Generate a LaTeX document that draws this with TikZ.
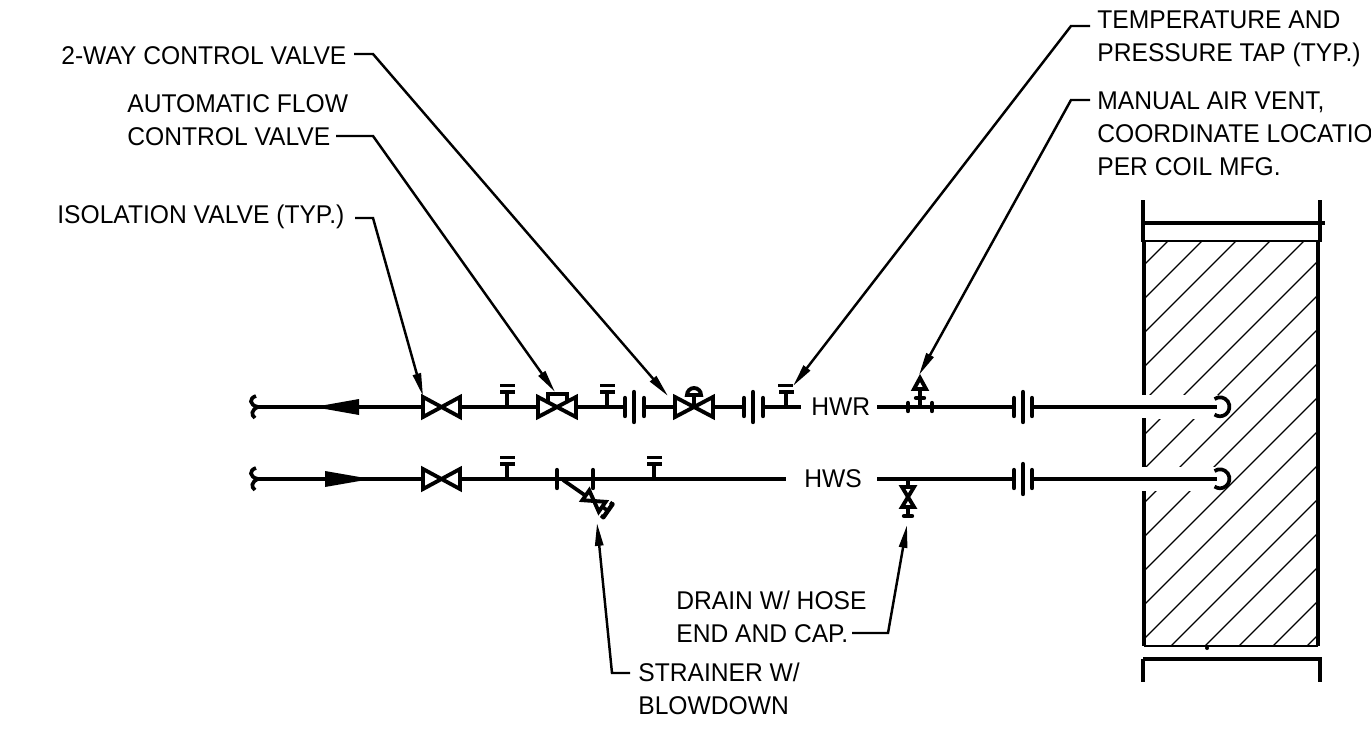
\documentclass[tikz,border=0pt]{standalone}
\usepackage{fontspec}
\setmainfont[FakeStretch=0.96]{Liberation Sans}
\usetikzlibrary{arrows.meta}
\tikzset{
  pipe/.style={black, line width=2.1pt},
  valve/.style={black, line width=2.2pt, line join=miter},
  tick/.style={black, line width=2.5pt, line cap=round},
  wall/.style={black, line width=2.8pt},
  rail/.style={black, line width=1.9pt},
  thinwall/.style={black, line width=1.6pt},
  hatch/.style={black, line width=0.7pt},
  leader/.style={black, line width=1.4pt, -{Triangle[length=13pt,width=4.6pt]}},
  label/.style={anchor=west, inner sep=0pt, align=left, font=\fontsize{14.6}{18.8}\selectfont},
}
\begin{document}
\begin{tikzpicture}[x=0.02cm,y=-0.02cm]
\useasboundingbox (0,0) rectangle (1371,740);

%% Coil hatching
\begin{scope}
\clip (1144,242) rectangle (1318,646);
\foreach \c in {1409,1443,...,1953}
  \draw[hatch] (1144,\c-1144) -- (1318,\c-1318);
\end{scope}
\fill[white] (1142,395) rectangle (1218,419);
\fill[white] (1142,467) rectangle (1218,491);

%% Coil casing
\draw[wall] (1144,242) -- (1144,395);
\draw[wall] (1144,418) -- (1144,467);
\draw[wall] (1144,491) -- (1144,646);
\draw[wall] (1318,242) -- (1318,646);
\draw[rail] (1143,200) -- (1143,242);
\draw[rail] (1320,200) -- (1320,242);
\draw[rail] (1143,659) -- (1143,682);
\draw[rail] (1320,659) -- (1320,682);
\draw[rail] (1143,223) -- (1325,223);
\draw[thinwall] (1144,241) -- (1318,241);
\draw[thinwall] (1144,646) -- (1318,646);
\draw[rail] (1143,659) -- (1322,659);
\fill (1207,648) circle (2);

%% Return pipe
\draw[pipe] (255,407) -- (423,407) (460,407) -- (538,407) (576,407) -- (625,407);
\draw[pipe] (644,407) -- (675,407) (713,407) -- (744,407) (763,407) -- (801,407);
\draw[pipe] (877,407) -- (1014,407) (1032,407) -- (1217,407);
\draw[pipe] (256,396) .. controls (249,398) and (249,405) .. (258,407) .. controls (251,410) and (251,415) .. (255,418);
\fill (314,407) -- (359,399) -- (359,415) -- cycle;
\draw[pipe] (1214.5,399) arc[start angle=-125,end angle=125,radius=9.5];

%% Supply pipe
\draw[pipe] (255,479) -- (423,479) (460,479) -- (786,479);
\draw[pipe] (877,479) -- (1014,479) (1032,479) -- (1217,479);
\draw[pipe] (256,468) .. controls (249,470) and (249,477) .. (258,479) .. controls (251,482) and (251,487) .. (255,490);
\fill (371,479) -- (325,471) -- (325,487) -- cycle;
\draw[pipe] (1214.5,471) arc[start angle=-125,end angle=125,radius=9.5];

%% Valves
\draw[valve] (423,397) -- (460,417) -- (460,397) -- (423,417) -- cycle;
\draw[valve] (423,469) -- (460,489) -- (460,469) -- (423,489) -- cycle;
\draw[valve] (538,397) -- (576,417) -- (576,397) -- (538,417) -- cycle;
\draw[valve] (548,401) -- (548,394) -- (567,394) -- (567,401);
\draw[valve] (675,397) -- (713,417) -- (713,397) -- (675,417) -- cycle;
\draw[pipe] (694,396) -- (694,407);
\draw[valve] (687,395) arc[start angle=180,end angle=360,radius=7] -- cycle;

%% Taps
\draw[pipe] (507,407) -- (507,392) (500,392) -- (515,392) (500,385.5) -- (515,385.5);
\draw[pipe] (607,407) -- (607,392) (600,392) -- (615,392) (600,385.5) -- (615,385.5);
\draw[pipe] (786,407) -- (786,392) (779,392) -- (794,392) (778,385.5) -- (793,385.5);
\draw[pipe] (507,479) -- (507,464) (500,464) -- (515,464) (500,457.5) -- (515,457.5);
\draw[pipe] (654,479) -- (654,464) (647,464) -- (662,464) (647,457.5) -- (662,457.5);

%% Flanges
\draw[tick] (625,398) -- (625,416) (634,392) -- (634,422) (644,398) -- (644,416);
\draw[tick] (744,398) -- (744,416) (753,392) -- (753,422) (763,398) -- (763,416);
\draw[tick] (1014,398) -- (1014,416) (1023,392) -- (1023,422) (1032,398) -- (1032,416);
\draw[tick] (1014,470) -- (1014,488) (1023,464) -- (1023,494) (1032,470) -- (1032,488);

%% Strainer
\draw[tick] (557,470) -- (557,488) (593,470) -- (593,488);
\draw[pipe] (563,480) -- (586,496);
\begin{scope}[shift={(594,501)},rotate=-35]
\draw[valve] (-10,-6) -- (10,6) -- (10,-6) -- (-10,6) -- cycle;
\draw[pipe] (10,0) -- (17,0);
\draw[tick] (17,-8) -- (17,8);
\draw[pipe] (17,-8) -- (14,-8) (17,8) -- (14,8);
\end{scope}

%% Air vent
\draw[tick] (908,403) -- (908,411) (932,403) -- (932,411);
\draw[pipe] (920,407) -- (920,389);
\draw[valve] (920,378) -- (926,389) -- (914,389) -- cycle;
\draw[tick] (916,398) -- (924,398);

%% Drain
\draw[pipe] (908,479) -- (908,487) (908,507) -- (908,516);
\draw[valve] (902,487) -- (914,487) -- (902,507) -- (914,507) -- cycle;
\draw[tick] (904,516) -- (912,516);

%% Pipe names
\node[label] (hwrname) at (811,407) {HWR};
\node[label] (hwsname) at (804,479) {HWS};

%% Labels
\node[label] (wayname) at (61,56) {2-WAY CONTROL VALVE};
\node[label] (autoname) at (127,120.5) {AUTOMATIC FLOW\\CONTROL VALVE};
\node[label] (isoname) at (57,217) {ISOLATION VALVE (TYP.)};
\node[label] (tempname) at (1097,39) {TEMPERATURE AND\\PRESSURE TAP (TYP.)};
\node[label] (ventname) at (1097,133.5) {MANUAL AIR VENT,\\COORDINATE LOCATIO\\PER COIL MFG.};
\node[label] (drainname) at (676,617) {DRAIN W/ HOSE\\END AND CAP.};
\node[label] (strainname) at (638,689) {STRAINER W/\\BLOWDOWN};

%% Leaders
\coordinate (waytip) at (668,396);
\coordinate (autotip) at (555,392);
\coordinate (isotip) at (423,396);
\coordinate (temptip) at (793,386);
\coordinate (venttip) at (919,375);
\coordinate (draintip) at (907,525);
\coordinate (straintip) at (597,523);

\draw[leader] (354,54) -- (373,54) -- (waytip);
\draw[leader] (336,136) -- (373,136) -- (autotip);
\draw[leader] (355,218) -- (373,218) -- (isotip);
\draw[leader] (1090,26) -- (1071,26) -- (temptip);
\draw[leader] (1090,100) -- (1071,100) -- (venttip);
\draw[leader] (852,633) -- (888,633) -- (draintip);
\draw[leader] (630,673) -- (612,673) -- (straintip);

\end{tikzpicture}
\end{document}
